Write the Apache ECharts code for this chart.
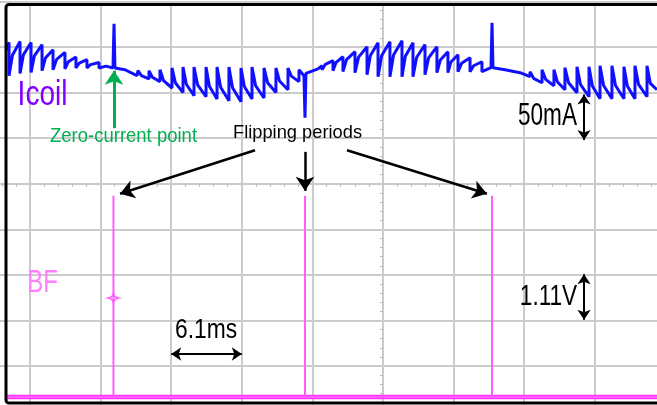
<!DOCTYPE html>
<html>
<head>
<meta charset="utf-8">
<script src="https://cdn.jsdelivr.net/npm/echarts@6/dist/echarts.min.js"></script>
<style>html,body{margin:0;padding:0;background:#fff;}#chart{width:657px;height:405px;}</style>
</head>
<body>
<div id="chart"></div>
<script>
// ---- Data ----
// Coil current trace (Icoil): time in ms (6.1 ms / div), current in mA (50 mA / div)
const icoilTimeMs = [
  4.03, 4.29, 4.29, 4.58, 5.24, 5.24, 5.53, 6.19, 6.19, 6.48, 7.14, 7.14, 7.43, 8.09, 8.09, 8.40, 9.12, 9.12, 9.41,
  10.07, 10.07, 10.36, 11.02, 11.02, 11.33, 12.06, 12.06, 12.67, 13.27, 13.36, 13.44,
  14.31, 15.34, 15.43, 15.72, 16.38, 16.38, 16.67, 17.33, 17.33, 17.64, 18.37, 18.37, 18.66, 19.32, 19.32, 19.61,
  20.27, 20.27, 20.58, 21.31, 21.31, 21.60, 22.26, 22.26, 22.57, 23.29, 23.29, 23.60, 24.33, 24.33, 24.62,
  25.28, 25.28, 25.59, 26.32, 26.32, 26.63, 27.35, 27.35, 27.66, 28.39, 28.39, 28.68, 29.34, 29.34, 29.77, 29.86, 29.94,
  30.98, 31.33, 31.33, 31.62, 32.28, 32.28, 32.55, 33.14, 33.14, 33.45, 34.18, 34.18, 34.49, 35.22, 35.22, 35.51,
  36.17, 36.17, 36.48, 37.20, 37.20, 37.51, 38.24, 38.24, 38.53, 39.19, 39.19, 39.50, 40.23, 40.23, 40.54,
  41.26, 41.26, 41.55, 42.21, 42.21, 42.47, 43.08, 43.08, 43.39, 44.12, 44.12, 44.43, 45.15, 45.15, 45.93, 46.02, 46.10,
  47.14, 48.44, 49.30, 49.30, 49.61, 50.34, 50.34, 50.65, 51.37, 51.37, 51.66, 52.32, 52.32, 52.63, 53.36, 53.36, 53.67,
  54.40, 54.40, 54.69, 55.35, 55.35, 55.66, 56.38, 56.38, 56.69, 57.42, 57.42, 57.71, 58.37, 58.37, 58.68, 59.41, 59.41, 59.70, 60.27
];
const icoilCurrentMa = [
  147, 155, 118.5, 141, 156, 121, 141.4, 155, 122, 140.3, 152.5, 124, 137.8, 147, 125, 136.4, 144, 126, 133.8,
  139, 127, 132.4, 136, 127, 130.6, 133, 127, 129, 127, 175.5, 127,
  125, 118.5, 124, 118.6, 115, 124, 116.8, 112, 125, 113, 105, 127, 110.8, 100, 128, 109.1,
  96.5, 128, 108.5, 95.5, 128, 107, 93, 128, 105.8, 91, 128, 105.2, 90, 127, 106.6,
  93, 128, 107.6, 94, 127, 110.8, 100, 127, 112.6, 103, 127, 118, 112, 125, 118.5, 72.4, 121,
  126, 129.4, 125, 131, 135, 124, 133.2, 139.3, 123, 136.1, 144.8, 121.8, 138.9, 150.3, 119.6, 140.7,
  154.7, 117.4, 140.4, 155.8, 117.4, 141.1, 156.9, 117.4, 139.8, 154.7, 117.4, 138.5, 152.5, 119.6, 138,
  150.3, 121.8, 135.6, 144.8, 121.8, 133.6, 141.5, 122.9, 132.1, 138.2, 122.9, 129.4, 133.8, 122.9, 127.3, 176.6, 127.3,
  125.1, 121.8, 117.4, 122.9, 115.6, 110.8, 125.1, 114.5, 107.5, 125.1, 111.9, 103.1, 127.3, 110.8, 99.8, 128.3, 108.6,
  95.4, 128.3, 107.2, 93.2, 129.4, 107.7, 93.2, 129.4, 107.7, 93.2, 128.3, 107.2, 93.2, 129.4, 109, 95.4, 129.4, 110, 103.1
];
// Bridge flip signal (BF): time in ms, voltage in V (1.11 V / div)
const bfTimeMs   = [4.03, 13.31, 13.31, 13.31, 29.86, 29.86, 29.86, 46.02, 46.02, 46.02, 60.3];
const bfVoltageV = [0,    0,     4.9,   0,     0,     4.9,   0,     0,     4.9,   0,     0];
const bfBaseTimeMs = [4.03, 60.3];
const bfBaseVoltageV = [0, 0];
// trigger marker on BF
const bfMarker = [13.31, 2.41];

// Annotation anchors (data coordinates)
const zeroCurrentArrow = [[13.36, 61], [13.36, 124]];          // Icoil axis
const flipArrows = [                                            // BF axis
  [[25.54, 6.01], [13.88, 4.95]],
  [[29.86, 5.97], [29.86, 5.02]],
  [[33.49, 6.01], [45.58, 4.95]]
];
const currentScaleBar = [[53.97, 48], [53.97, 98]];             // 50 mA
const voltageScaleBar = [[53.97, 1.88], [53.97, 2.99]];         // 1.11 V
const timeScaleBar = [[18.3, 1.047], [24.4, 1.047]];            // 6.1 ms

const labels = {
  icoil: 'Icoil', bf: 'BF', zero: 'Zero-current point', flip: 'Flipping periods',
  cur: '50mA', volt: '1.11V', time: '6.1ms'
};

// ---- Chart ----
const zip = (a, b) => a.map((v, i) => [v, b[i]]);
const FONT = '"Liberation Sans", Arial, sans-serif';
const GRID = '#cbcbcb';

const chart = echarts.init(document.getElementById('chart'), null, {renderer: 'canvas'});

function txt(text, cx, cy, size, color, sy) {
  return {
    type: 'text', x: cx, y: cy, scaleY: sy, z: 100,
    style: { text: text, x: 0, y: 0, fill: color, font: size + 'px ' + FONT, textAlign: 'center', textVerticalAlign: 'middle' }
  };
}

const arrowLine = (pair, color, width, startSym, endSym, size) => ([
  { coord: pair[0], symbol: startSym, symbolSize: size, lineStyle: { color: color, width: width, type: 'solid' } },
  { coord: pair[1], symbol: endSym, symbolSize: size }
]);

chart.setOption({
  animation: false,
  backgroundColor: '#ffffff',
  grid: { left: -40.6, top: 1.4, width: 706, height: 410.2, containLabel: false, outerBoundsMode: 'none' },
  xAxis: {
    type: 'value', min: 0, max: 61, interval: 6.1,
    axisLabel: { show: false },
    axisLine: { show: true, onZero: true, onZeroAxisIndex: 0, lineStyle: { color: GRID, width: 1.5 } },
    axisTick: { show: false },
    minorTick: { show: true, splitNumber: 5, length: 3, lineStyle: { color: '#b8b8b8', width: 1 } },
    splitLine: { show: true, lineStyle: { color: GRID, width: 2 } }
  },
  yAxis: [
    {
      type: 'value', min: -250, max: 200, interval: 50, position: 'left', offset: -423.6,
      axisLabel: { show: false },
      axisLine: { show: true, onZero: false, lineStyle: { color: GRID, width: 1.5 } },
      axisTick: { show: false },
      minorTick: { show: true, splitNumber: 5, length: 3, lineStyle: { color: '#b8b8b8', width: 1 } },
      splitLine: { show: true, lineStyle: { color: GRID, width: 2 } }
    },
    { type: 'value', min: -0.356, max: 9.634, show: false, splitLine: { show: false } }
  ],
  series: [
    {
      name: 'BF baseline', type: 'line', yAxisIndex: 1, data: zip(bfBaseTimeMs, bfBaseVoltageV),
      showSymbol: false, silent: true, lineStyle: { color: '#ff33ff', width: 4.5 }, z: 2
    },
    {
      name: 'BF', type: 'line', yAxisIndex: 1, data: zip(bfTimeMs, bfVoltageV),
      showSymbol: false, silent: true, lineStyle: { color: '#ff5cff', width: 2 }, z: 3,
      markPoint: {
        silent: true, animation: false,
        symbol: 'path://M0,-10 Q1.5,-1.5 10,0 Q1.5,1.5 0,10 Q-1.5,1.5 -10,0 Q-1.5,-1.5 0,-10Z',
        symbolSize: 10,
        itemStyle: { color: 'rgba(0,0,0,0)', borderColor: '#ff5cff', borderWidth: 1.5 },
        label: { show: false },
        data: [{ coord: bfMarker }]
      },
      markLine: {
        silent: true, animation: false, label: { show: false }, emphasis: { disabled: true },
        data: [
          arrowLine(flipArrows[0], '#000', 2.5, 'none', 'arrow', 14),
          arrowLine(flipArrows[1], '#000', 2.5, 'none', 'arrow', 14),
          arrowLine(flipArrows[2], '#000', 2.5, 'none', 'arrow', 14),
          arrowLine(voltageScaleBar, '#000', 2, 'arrow', 'arrow', 10),
          arrowLine(timeScaleBar, '#000', 2, 'arrow', 'arrow', 10)
        ]
      }
    },
    {
      name: 'Icoil', type: 'line', yAxisIndex: 0, data: zip(icoilTimeMs, icoilCurrentMa),
      showSymbol: false, silent: true, lineStyle: { color: '#1010ff', width: 3 }, z: 4,
      markLine: {
        silent: true, animation: false, label: { show: false }, emphasis: { disabled: true },
        data: [
          arrowLine(zeroCurrentArrow, '#00b050', 3, 'none', 'arrow', 14),
          arrowLine(currentScaleBar, '#000', 2, 'arrow', 'arrow', 10)
        ]
      }
    }
  ],
  graphic: [
    { type: 'rect', z: 90, silent: true, shape: { x: 6, y: 4.5, width: 700, height: 398.5, r: 3 },
      style: { fill: 'none', stroke: '#000', lineWidth: 3 } },
    txt(labels.icoil, 42.5, 95.5, 28, '#8000ff', 1.25),
    txt(labels.bf, 42.5, 283.5, 24, '#ff80ff', 1.34),
    txt(labels.zero, 123.5, 137, 18.5, '#00b050', 1.05),
    txt(labels.flip, 297.5, 133, 18.3, '#000', 1.05),
    txt(labels.cur, 547.5, 117, 22.6, '#000', 1.36),
    txt(labels.volt, 548.5, 297, 22.6, '#000', 1.27),
    txt(labels.time, 206, 330, 22.8, '#000', 1.25)
  ]
});
</script>
</body>
</html>
